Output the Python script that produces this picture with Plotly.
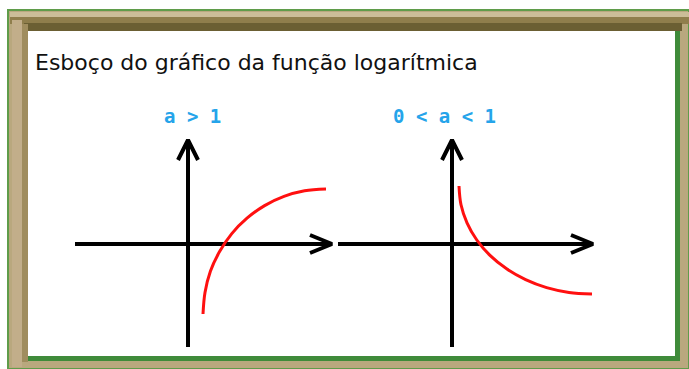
import plotly.graph_objects as go

W, H = 689, 369

# ---- data (sketch units, origin at axes crossing) ----
title_text = "Esboço do gráfico da função logarítmica"
panel_labels = ["a > 1", "0 < a < 1"]

# a > 1 : increasing log curve
curve1_x = [0.75, 0.85, 1.12, 1.58, 2.19, 2.95, 3.83, 4.80, 5.83, 6.90]
curve1_y = [-3.5, -2.42, -1.36, -0.38, 0.52, 1.29, 1.92, 2.38, 2.66, 2.75]

# 0 < a < 1 : decreasing log curve
curve2_x = [0.35, 0.45, 0.75, 1.24, 1.90, 2.73, 3.68, 4.73, 5.85, 7.00]
curve2_y = [2.90, 1.96, 1.06, 0.20, -0.57, -1.24, -1.78, -2.18, -2.42, -2.50]

# axis extents per panel: (x_min, x_max, y_min, y_max)
axes1 = (-5.65, 7.2, -5.15, 5.2)
axes2 = (-5.7, 7.05, -5.15, 5.2)

# ---- helpers ----
def px(x):
    return x / W

def py(y):
    return 1 - y / H

def axis_trace(ext, xa, ya):
    x0, x1, y0, y1 = ext
    xs = [x0, x1, None, x1 - 1.1, x1, x1 - 1.1, None, 0, 0, None, -0.5, 0, 0.5]
    ys = [0, 0, None, 0.45, 0, -0.45, None, y0, y1, None, y1 - 1.0, y1, y1 - 1.0]
    return go.Scatter(x=xs, y=ys, mode="lines", xaxis=xa, yaxis=ya,
                      line=dict(color="black", width=4), hoverinfo="skip",
                      showlegend=False)

def curve_trace(xs, ys, xa, ya):
    return go.Scatter(x=xs, y=ys, mode="lines", xaxis=xa, yaxis=ya,
                      line=dict(color="#ff1010", width=3, shape="spline", smoothing=1.0),
                      hoverinfo="skip", showlegend=False)

fig = go.Figure()
fig.add_trace(axis_trace(axes1, "x", "y"))
fig.add_trace(curve_trace(curve1_x, curve1_y, "x", "y"))
fig.add_trace(axis_trace(axes2, "x2", "y2"))
fig.add_trace(curve_trace(curve2_x, curve2_y, "x2", "y2"))

ydom = [py(360), py(100)]
hidden = dict(visible=False, fixedrange=True)
fig.update_layout(
    width=W, height=H,
    margin=dict(l=0, r=0, t=0, b=0),
    paper_bgcolor="white", plot_bgcolor="rgba(0,0,0,0)",
    xaxis=dict(domain=[px(50), px(338)], range=[-6.9, 7.5], **hidden),
    yaxis=dict(domain=ydom, range=[-5.8, 7.2], **hidden),
    xaxis2=dict(domain=[px(338), px(620)], range=[-5.7, 8.4], anchor="y2", **hidden),
    yaxis2=dict(domain=ydom, range=[-5.8, 7.2], anchor="x2", **hidden),
    showlegend=False,
)

# ---- frame ----
shapes = []
def rect(x0, y0, x1, y1, fill, line=None, lw=0):
    shapes.append(dict(type="rect", xref="paper", yref="paper",
                       x0=px(x0), x1=px(x1), y0=py(y1), y1=py(y0),
                       fillcolor=fill, line=dict(width=lw, color=line or fill),
                       layer="below"))

rect(8, 10, 689, 369, "#b9a87e", "#5f9c4a", 2)
rect(10, 12, 689, 17, "#cbbd98")
rect(10, 17, 689, 24, "#8f7e4c")
rect(24, 23, 682, 31, "#6b5f33")
rect(12, 20, 22, 367, "#c2ae8a")
rect(22, 24, 28, 362, "#a08d5e")
rect(28, 31, 680, 361, "#3f8b3a")
rect(28, 31, 675, 356, "#ffffff")
fig.update_layout(shapes=shapes)

# ---- texts ----
fig.add_annotation(x=px(33), y=py(62), xref="paper", yref="paper",
                   text=title_text, showarrow=False, xanchor="left", yanchor="middle",
                   font=dict(family="DejaVu Sans, sans-serif", size=22, color="#111111"))
for lbl, cx in zip(panel_labels, [192, 444]):
    fig.add_annotation(x=px(cx), y=py(116), xref="paper", yref="paper",
                       text="<b>" + lbl + "</b>", showarrow=False,
                       xanchor="center", yanchor="middle",
                       font=dict(family="DejaVu Sans Mono, monospace", size=19, color="#25a4ea"))

fig.write_html("out.html", config={"displayModeBar": False},
               post_script="document.body.style.margin='0';document.body.style.overflow='hidden';")
